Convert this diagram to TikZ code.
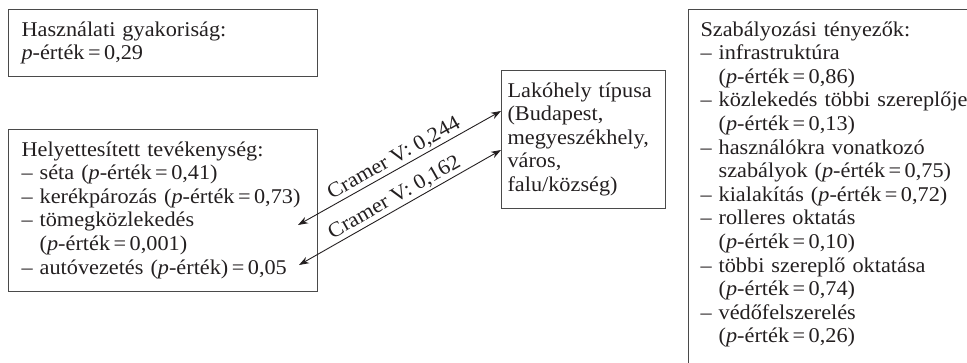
\documentclass[tikz,border=0pt]{standalone}
\usepackage{fontspec}
\setmainfont[FakeStretch=1.06]{Liberation Serif}
\usetikzlibrary{arrows.meta,calc}
\definecolor{ink}{HTML}{231F20}
\definecolor{framec}{HTML}{4A4A4A}
\newcommand\pe[1]{\textit{p}-érték\,=\,#1}
\newcommand\hind{\hphantom{–}\ }
\newcommand\rowx[1]{\mbox{\strut#1}}
\begin{document}
\begin{tikzpicture}[x=1pt,y=-1pt,
  font=\fontsize{21}{23.6}\selectfont, text=ink,
  box/.style={draw=framec, line width=1.1pt, anchor=north west, align=left,
    inner xsep=13pt, inner ysep=10pt},
  lbl/.style={sloped, above, inner sep=2pt, text=ink},
  dbl/.style={{Stealth[length=10pt,width=7pt]}-{Stealth[length=10pt,width=7pt]},
    line width=0.9pt, draw=ink}]
\useasboundingbox (0,0) rectangle (967,362);
\clip (0,0) rectangle (967,362);

\node[box, text width=283pt] (b1) at (8,9)
  {\rowx{Használati gyakoriság:}\\
   \rowx{\pe{0,29}}};

\node[box, text width=283pt] (b2) at (8,129)
  {\rowx{Helyettesített tevékenység:}\\
   \rowx{– séta (\pe{0,41})}\\
   \rowx{– kerékpározás (\pe{0,73})}\\
   \rowx{– tömegközlekedés}\\
   \rowx{\hind(\pe{0,001})}\\
   \rowx{– autóvezetés (\textit{p}-érték)\,=\,0,05}};

\node[box, inner xsep=6pt, text width=152pt] (b3) at (501,70)
  {\rowx{Lakóhely típusa}\\
   \rowx{(Budapest,}\\
   \rowx{megyeszékhely,}\\
   \rowx{város,}\\
   \rowx{falu/község)}};

\node[box, inner xsep=12pt, text width=266pt] (b4) at (688,9)
  {\rowx{Szabályozási tényezők:}\\
   \rowx{– infrastruktúra}\\
   \rowx{\hind(\pe{0,86})}\\
   \rowx{– közlekedés többi szereplője}\\
   \rowx{\hind(\pe{0,13})}\\
   \rowx{– használókra vonatkozó}\\
   \rowx{\hind szabályok (\pe{0,75})}\\
   \rowx{– kialakítás (\pe{0,72})}\\
   \rowx{– rolleres oktatás}\\
   \rowx{\hind(\pe{0,10})}\\
   \rowx{– többi szereplő oktatása}\\
   \rowx{\hind(\pe{0,74})}\\
   \rowx{– védőfelszerelés}\\
   \rowx{\hind(\pe{0,26})}\\[30pt]\mbox{}};

\coordinate (u1) at (298,225);
\coordinate (u2) at (299,265);
\coordinate (v1) at (b3.west |- 0,111);
\coordinate (v2) at (b3.west |- 0,150);

\draw[dbl] (u1) -- node[lbl] {Cramer V: 0,244} (v1);
\draw[dbl] (u2) -- node[lbl] {Cramer V: 0,162} (v2);
\end{tikzpicture}
\end{document}
